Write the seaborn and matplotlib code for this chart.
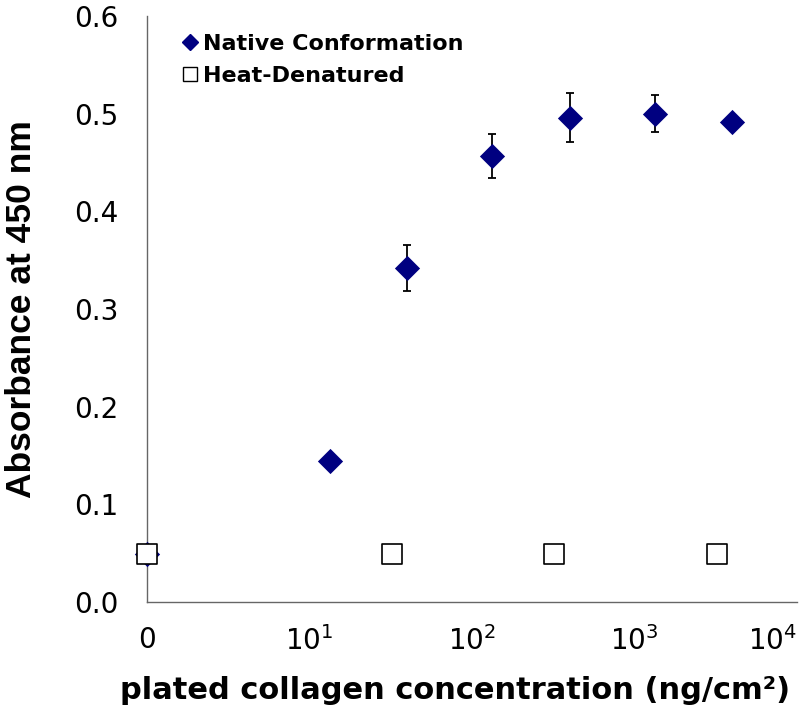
import numpy as np
import pandas as pd
import seaborn as sns
import matplotlib.pyplot as plt
from matplotlib import font_manager
from matplotlib.lines import Line2D

# plated collagen (ng/cm2); 0 is drawn at the 10^0 position of the log axis
native_conc = [0, 13.3, 40, 133, 400, 1333, 4000]
native_abs = [0.049, 0.144, 0.342, 0.457, 0.496, 0.500, 0.491]
native_err = [0.0, 0.004, 0.0235, 0.0225, 0.025, 0.019, 0.005]

heat_conc = [0, 32, 320, 3200]
heat_abs = [0.049, 0.049, 0.049, 0.049]

x_ticks = [1, 10, 100, 1000, 10000]
x_ticklabels = ['0', '$10^{1}$', '$10^{2}$', '$10^{3}$', '$10^{4}$']
y_ticks = [0.0, 0.1, 0.2, 0.3, 0.4, 0.5, 0.6]

sns.set_style('white')
plt.rcParams['font.family'] = ['DejaVu Sans']
plt.rcParams['mathtext.fontset'] = 'dejavusans'
plt.rcParams['text.color'] = 'black'
plt.rcParams['axes.labelcolor'] = 'black'
plt.rcParams['xtick.color'] = 'black'
plt.rcParams['ytick.color'] = 'black'

# Arial-like bold for the y label (avoid the Narrow variant)
ylab_font = {'family': 'Liberation Sans', 'weight': 'bold', 'size': 25.5}
for f in font_manager.fontManager.ttflist:
    if f.name == 'Liberation Sans' and f.weight == 700 and f.style == 'normal' \
            and 'narrow' not in f.fname.lower():
        ylab_font = font_manager.FontProperties(fname=f.fname, size=25.5)
        break

native = pd.DataFrame({'conc': native_conc, 'abs': native_abs, 'err': native_err})
native['xpos'] = native['conc'].replace(0, 1)
heat = pd.DataFrame({'conc': heat_conc, 'abs': heat_abs})
heat['xpos'] = heat['conc'].replace(0, 1)

fig = plt.figure(figsize=(8, 7.16), dpi=100)
ax = fig.add_axes([0.18375, 0.1592, 0.8125, 0.8185])
ax.set_xscale('log')

# error bars sit under the diamonds
ax.errorbar(native['xpos'], native['abs'], yerr=native['err'], fmt='none',
            ecolor='black', elinewidth=1.3, capsize=3, capthick=1.3, zorder=2)

sns.scatterplot(data=native, x='xpos', y='abs', marker='D', s=165,
                color='#000080', edgecolor='#000080', linewidth=0,
                ax=ax, zorder=3, clip_on=False, legend=False)
sns.scatterplot(data=heat, x='xpos', y='abs', marker='s', s=190,
                color='white', edgecolor='black', linewidth=1.2,
                ax=ax, zorder=4, clip_on=False, legend=False)

ax.set_xlim(1, 10000)
ax.set_ylim(0, 0.6)
ax.set_xticks(x_ticks)
ax.set_xticklabels(x_ticklabels)
ax.xaxis.set_minor_locator(plt.NullLocator())
ax.set_yticks(y_ticks)
ax.set_yticklabels([f'{v:.1f}' for v in y_ticks])

for side in ['top', 'right']:
    ax.spines[side].set_visible(False)
for side in ['left', 'bottom']:
    ax.spines[side].set_color('#666666')
    ax.spines[side].set_linewidth(1.0)

ax.tick_params(axis='both', which='major', direction='out', length=7.5,
               width=1.0, color='#666666', labelsize=20, labelcolor='black')
ax.tick_params(axis='y', pad=13)
ax.tick_params(axis='x', pad=10)
# last x label pulled left so it stays inside the picture
ax.get_xticklabels()[-1].set_horizontalalignment('right')

ax.set_xlabel('plated collagen concentration (ng/cm²)', fontsize=22,
              fontweight='bold')
ax.xaxis.set_label_coords(0.474, -0.127)
if isinstance(ylab_font, dict):
    ax.set_ylabel('Absorbance at 450 nm', fontdict=ylab_font)
else:
    ax.set_ylabel('Absorbance at 450 nm', fontproperties=ylab_font)
ax.yaxis.set_label_coords(-0.168, 0.5)

handles = [
    Line2D([], [], marker='D', linestyle='none', markersize=8,
           markerfacecolor='#000080', markeredgecolor='#000080'),
    Line2D([], [], marker='s', linestyle='none', markersize=10.5,
           markerfacecolor='white', markeredgecolor='black', markeredgewidth=1.0),
]
ax.legend(handles, ['Native Conformation', 'Heat-Denatured'], loc='upper left',
          bbox_to_anchor=(0.035, 0.985), frameon=False,
          prop={'weight': 'bold', 'size': 16}, handletextpad=0.1,
          handlelength=1.0, labelspacing=0.55, borderaxespad=0)

fig.savefig('out.png', dpi=100)
